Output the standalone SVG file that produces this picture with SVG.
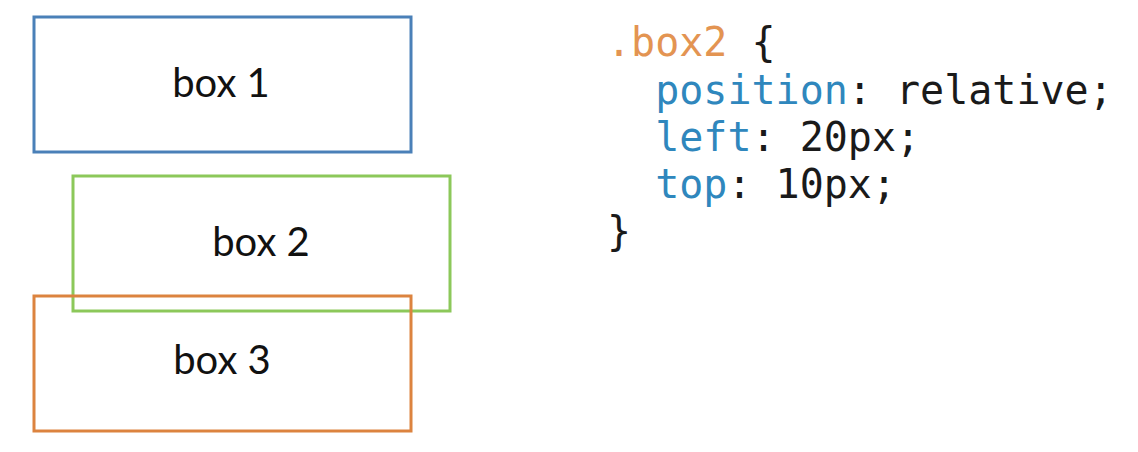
<svg xmlns="http://www.w3.org/2000/svg" width="1138" height="452" viewBox="0 0 1138 452">
<style>
.box{fill:none;stroke-width:3}
.lbl{font-family:Lato,"Open Sans","Liberation Sans",sans-serif;font-size:40px;fill:#111;text-anchor:middle}
.code{font-family:"DejaVu Sans Mono","Liberation Mono",monospace;font-size:40px;fill:#1a1a1a}
.sel{fill:#e39452}
.prop{fill:#2f87bd}
</style>
<rect width="1138" height="452" fill="#fff"/>
<g id="box1">
<rect class="box" x="34" y="17" width="377" height="135" stroke="#4a80b8"/>
<text class="lbl" x="221" y="97">box 1</text>
</g>
<g id="box2">
<rect class="box" x="73" y="176" width="377" height="135" stroke="#8cc85a"/>
<text class="lbl" x="261" y="256">box 2</text>
</g>
<g id="box3">
<rect class="box" x="34" y="296" width="377" height="135" stroke="#dc833f"/>
<text class="lbl" x="222" y="374">box 3</text>
</g>
<g id="connectors"/>
<g id="code">
<text class="code" x="607" y="56" xml:space="preserve"><tspan class="sel">.box2</tspan> {</text>
<text class="code" x="607" y="104" xml:space="preserve">  <tspan class="prop">position</tspan>: relative;</text>
<text class="code" x="607" y="151" xml:space="preserve">  <tspan class="prop">left</tspan>: 20px;</text>
<text class="code" x="607" y="198" xml:space="preserve">  <tspan class="prop">top</tspan>: 10px;</text>
<text class="code" x="607" y="245">}</text>
</g>
</svg>
